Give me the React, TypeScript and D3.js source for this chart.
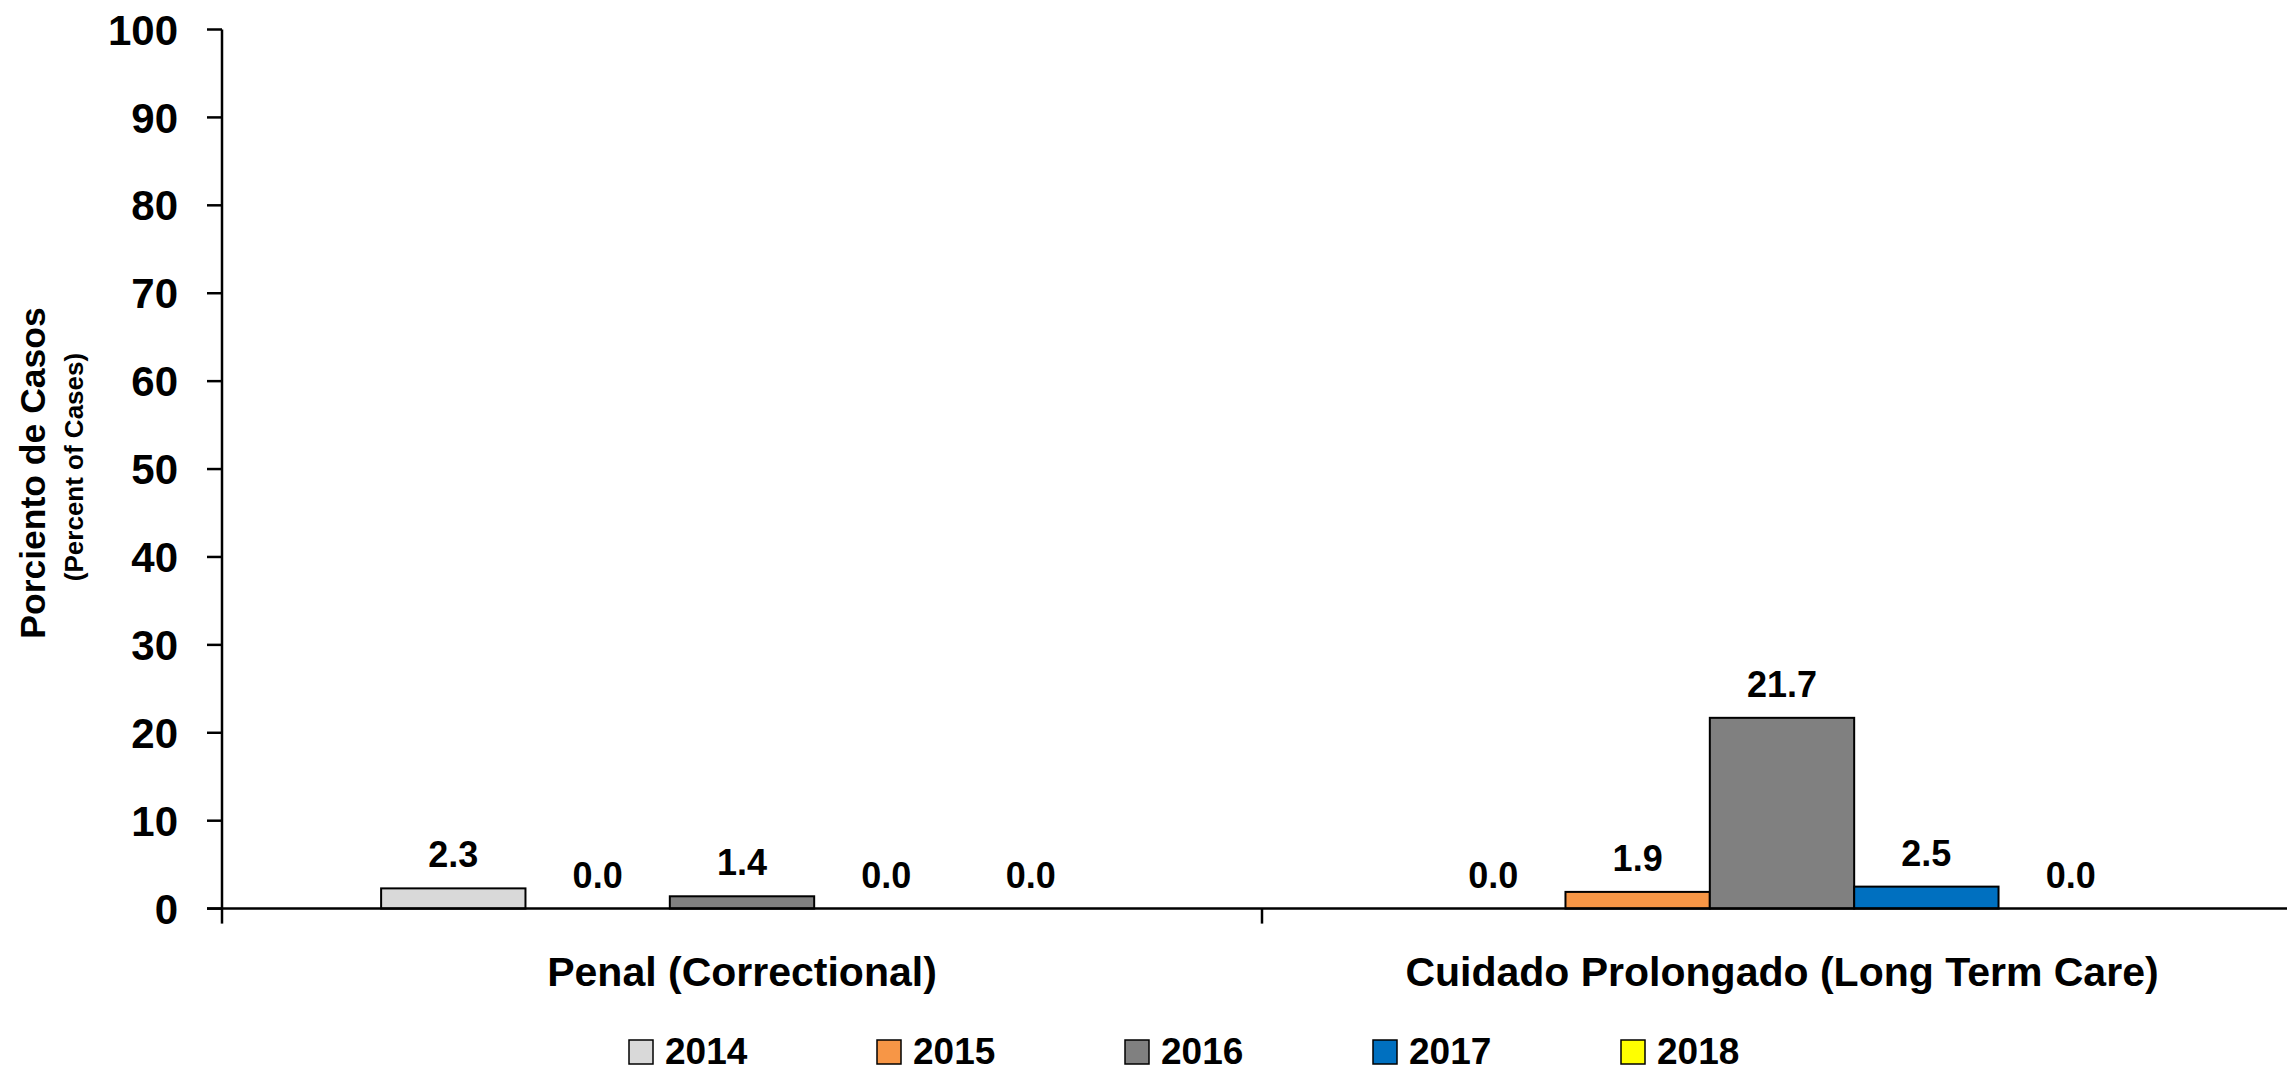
import React from "react";
import * as d3 from "d3";

const categories = ["Penal (Correctional)", "Cuidado Prolongado (Long Term Care)"];
const years = ["2014", "2015", "2016", "2017", "2018"];
const colors = ["#D9D9D9", "#F79646", "#808080", "#0070C0", "#FFFF00"];
// values[year][category]
const values2014 = [2.3, 0.0];
const values2015 = [0.0, 1.9];
const values2016 = [1.4, 21.7];
const values2017 = [0.0, 2.5];
const values2018 = [0.0, 0.0];
const seriesValues = [values2014, values2015, values2016, values2017, values2018];
const yTicks = [0, 10, 20, 30, 40, 50, 60, 70, 80, 90, 100];

const W = 2287;
const H = 1071;
const FONT = "'Liberation Sans', Arial, sans-serif";

export default function App() {
  const x0 = 222;
  const x1 = 2302;
  const yScale = d3.scaleLinear().domain([0, 100]).range([908.6, 29.5]);
  const xBand = d3.scaleBand<string>().domain(categories).range([x0, x1]).padding(0);
  const bw = xBand.bandwidth();
  const inner = d3
    .scaleBand<string>()
    .domain(years)
    .range([bw * 0.153, bw * (1 - 0.153)])
    .padding(0);
  const barW = inner.bandwidth();
  const y0 = yScale(0);

  return (
    <svg
      width={W}
      height={H}
      style={{ position: "absolute", left: 0, top: 0, display: "block", background: "#fff" }}
      fontFamily={FONT}
      fontWeight="bold"
    >
      {/* y axis */}
      <line x1={x0} x2={x0} y1={yScale(100)} y2={y0} stroke="#000" strokeWidth={2.5} />
      {yTicks.map((t) => (
        <g key={t}>
          <line x1={x0 - 15} x2={x0} y1={yScale(t)} y2={yScale(t)} stroke="#000" strokeWidth={2.5} />
          <text x={178} y={yScale(t)} dy="0.36em" textAnchor="end" fontSize={42} fill="#000">
            {t}
          </text>
        </g>
      ))}
      {/* bars */}
      {categories.map((c, ci) =>
        years.map((yr, si) => {
          const v = seriesValues[si][ci];
          const bx = (xBand(c) as number) + (inner(yr) as number);
          const by = yScale(v);
          return (
            <g key={c + yr}>
              {v > 0 && (
                <rect
                  x={bx}
                  y={by}
                  width={barW}
                  height={y0 - by}
                  fill={colors[si]}
                  stroke="#000"
                  strokeWidth={2}
                />
              )}
              <text x={bx + barW / 2} y={by - 21} textAnchor="middle" fontSize={36} fill="#000">
                {v.toFixed(1)}
              </text>
            </g>
          );
        })
      )}
      {/* x axis */}
      <line x1={x0 - 15} x2={x1} y1={y0} y2={y0} stroke="#000" strokeWidth={2.5} />
      {[...categories.map((c) => xBand(c) as number), x1].map((xx, i) => (
        <line key={i} x1={xx} x2={xx} y1={y0} y2={y0 + 15} stroke="#000" strokeWidth={2.5} />
      ))}
      {categories.map((c) => (
        <text
          key={c}
          x={(xBand(c) as number) + bw / 2}
          y={986}
          textAnchor="middle"
          fontSize={41}
          fill="#000"
        >
          {c}
        </text>
      ))}
      {/* y axis title */}
      <text
        transform={`translate(45,473) rotate(-90)`}
        textAnchor="middle"
        fontSize={35.5}
        fill="#000"
      >
        Porciento de Casos
      </text>
      <text
        transform={`translate(83,467) rotate(-90)`}
        textAnchor="middle"
        fontSize={26}
        fill="#000"
      >
        (Percent of Cases)
      </text>
      {/* legend */}
      {years.map((yr, i) => {
        const lx = 629 + i * 248;
        return (
          <g key={yr}>
            <rect x={lx} y={1040} width={24} height={24} fill={colors[i]} stroke="#000" strokeWidth={1.5} />
            <text x={lx + 36} y={1064} fontSize={37} fill="#000">
              {yr}
            </text>
          </g>
        );
      })}
    </svg>
  );
}
